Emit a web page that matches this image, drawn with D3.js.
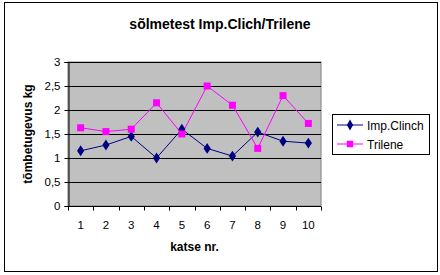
<!DOCTYPE html>
<html>
<head>
<meta charset="utf-8">
<script src="https://cdn.jsdelivr.net/npm/d3@7"></script>
<style>
  body { margin: 0; background: #fff; }
  svg { display: block; font-family: Arial, 'Liberation Sans', sans-serif; }
</style>
</head>
<body>
<div id="chart"></div>
<script>
// values
const trials = ['1', '2', '3', '4', '5', '6', '7', '8', '9', '10'];
const clinchValues = [1.15, 1.27, 1.45, 1.0, 1.6, 1.2, 1.04, 1.54, 1.35, 1.31];
const trileneValues = [1.63, 1.55, 1.6, 2.15, 1.5, 2.5, 2.1, 1.2, 2.3, 1.72];
const yTicks = [0, 0.5, 1, 1.5, 2, 2.5, 3];
const seriesNames = ['Imp.Clinch', 'Trilene'];

const W = 440, H = 275;
const plot = { left: 68, right: 321, top: 62, bottom: 206 };

const svg = d3.select('#chart').append('svg')
  .attr('width', W)
  .attr('height', H);

// outer chart frame
svg.append('rect')
  .attr('x', 4.5).attr('y', 2.5)
  .attr('width', 433).attr('height', 269)
  .attr('fill', '#fff')
  .attr('stroke', '#000')
  .attr('stroke-width', 1);

const x = d3.scaleBand().domain(trials).range([plot.left, plot.right]);
const y = d3.scaleLinear().domain([0, 3]).range([plot.bottom, plot.top]);

// plot background
svg.append('rect')
  .attr('x', plot.left).attr('y', plot.top)
  .attr('width', plot.right - plot.left).attr('height', plot.bottom - plot.top)
  .attr('fill', '#c0c0c0')
  .attr('stroke', '#808080');

// gridlines
svg.append('g')
  .selectAll('line')
  .data(yTicks.filter(t => t > 0))
  .enter().append('line')
  .attr('x1', plot.left).attr('x2', plot.right)
  .attr('y1', d => Math.round(y(d)) + 0.5).attr('y2', d => Math.round(y(d)) + 0.5)
  .attr('stroke', '#000');

// y axis
const yAxis = svg.append('g')
  .attr('transform', `translate(${plot.left + 0.5},0)`)
  .call(d3.axisLeft(y).tickValues(yTicks).tickSize(4).tickFormat(d => String(d).replace('.', ',')));
yAxis.select('.domain').attr('stroke', '#000');
yAxis.selectAll('text').attr('font-size', 11.5).attr('fill', '#000').attr('x', -8)
  .attr('font-family', 'Arial, Liberation Sans, sans-serif');

// x axis: ticks between categories
const xAxis = svg.append('g')
  .attr('transform', `translate(0,${plot.bottom + 0.5})`);
xAxis.append('line')
  .attr('x1', plot.left).attr('x2', plot.right)
  .attr('stroke', '#000');
const boundaries = trials.map(t => x(t)).concat([plot.right]);
xAxis.selectAll('line.tick')
  .data(boundaries)
  .enter().append('line')
  .attr('class', 'tick')
  .attr('x1', d => Math.round(d) + 0.5).attr('x2', d => Math.round(d) + 0.5)
  .attr('y1', 0).attr('y2', 4)
  .attr('stroke', '#000');
xAxis.selectAll('text')
  .data(trials)
  .enter().append('text')
  .attr('x', d => x(d) + x.bandwidth() / 2)
  .attr('y', 22)
  .attr('text-anchor', 'middle')
  .attr('font-size', 11.5)
  .text(d => d);

// series
const line = d3.line()
  .x((d, i) => x(trials[i]) + x.bandwidth() / 2)
  .y(d => y(d));

svg.append('path')
  .datum(clinchValues)
  .attr('d', line)
  .attr('fill', 'none')
  .attr('stroke', '#000080')
  .attr('stroke-width', 1);

svg.append('path')
  .datum(trileneValues)
  .attr('d', line)
  .attr('fill', 'none')
  .attr('stroke', '#ff00ff')
  .attr('stroke-width', 1);

const diamond = d3.symbol().type(d3.symbolDiamond).size(34);
svg.append('g')
  .selectAll('path')
  .data(clinchValues)
  .enter().append('path')
  .attr('d', diamond)
  .attr('transform', (d, i) => `translate(${x(trials[i]) + x.bandwidth() / 2},${y(d)}) scale(1.15,1)`)
  .attr('fill', '#000080');

svg.append('g')
  .selectAll('rect')
  .data(trileneValues)
  .enter().append('rect')
  .attr('x', (d, i) => x(trials[i]) + x.bandwidth() / 2 - 3.5)
  .attr('y', d => y(d) - 3.5)
  .attr('width', 7).attr('height', 7)
  .attr('fill', '#ff00ff');

// titles
svg.append('text')
  .attr('x', 220).attr('y', 29)
  .attr('text-anchor', 'middle')
  .attr('font-size', 14).attr('font-weight', 'bold')
  .text('sõlmetest Imp.Clich/Trilene');

svg.append('text')
  .attr('transform', `translate(32,${(plot.top + plot.bottom) / 2}) rotate(-90)`)
  .attr('text-anchor', 'middle')
  .attr('font-size', 12).attr('font-weight', 'bold')
  .text('tõmbetugevus kg');

svg.append('text')
  .attr('x', (plot.left + plot.right) / 2).attr('y', 251)
  .attr('text-anchor', 'middle')
  .attr('font-size', 12).attr('font-weight', 'bold')
  .text('katse nr.');

// legend
const legend = svg.append('g');
legend.append('rect')
  .attr('x', 332.5).attr('y', 114.5)
  .attr('width', 97).attr('height', 40)
  .attr('fill', '#fff').attr('stroke', '#000');

const legendColors = ['#000080', '#ff00ff'];
const legendRows = legend.selectAll('g.row')
  .data(seriesNames)
  .enter().append('g')
  .attr('class', 'row')
  .attr('transform', (d, i) => `translate(0,${125 + i * 19})`);
legendRows.append('line')
  .attr('x1', 337).attr('x2', 363)
  .attr('stroke', (d, i) => legendColors[i]);
legendRows.append('path')
  .attr('d', (d, i) => i === 0 ? diamond() : d3.symbol().type(d3.symbolSquare).size(42)())
  .attr('transform', 'translate(350,0)')
  .attr('fill', (d, i) => legendColors[i]);
legendRows.append('text')
  .attr('x', 367).attr('y', 4.5)
  .attr('font-size', 12)
  .text(d => d);
</script>
</body>
</html>
